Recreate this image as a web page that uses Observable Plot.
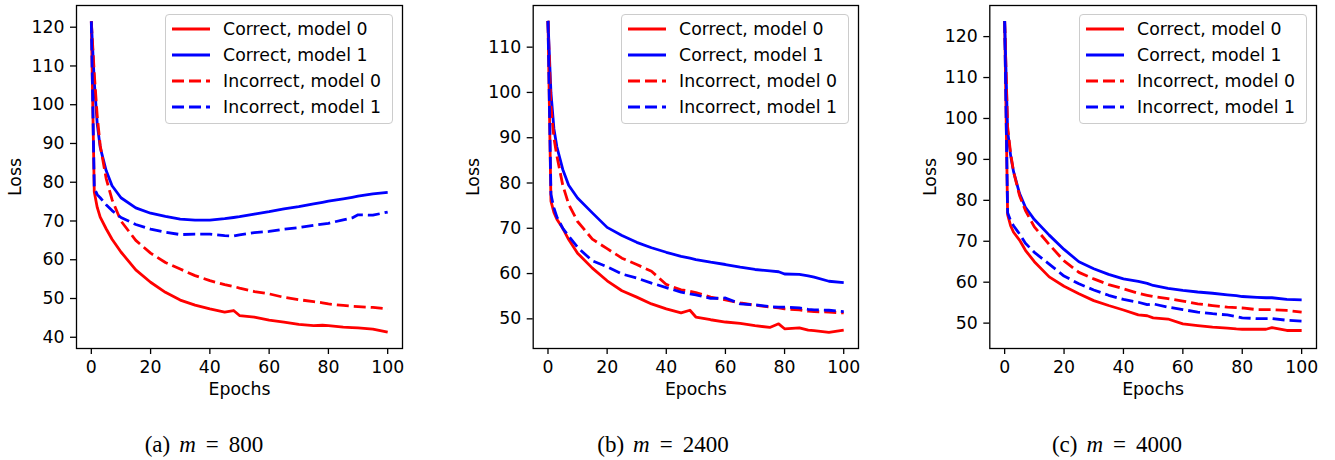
<!DOCTYPE html>
<html><head><meta charset="utf-8">
<script src="https://cdn.jsdelivr.net/npm/d3@7"></script>
<script src="https://cdn.jsdelivr.net/npm/@observablehq/plot@0.6"></script>
<style>
body{margin:0;background:#fff;width:1335px;height:460px;position:relative;overflow:hidden;font-family:"DejaVu Sans",sans-serif;}
.panel{position:absolute;top:0;height:400px;}
.legend{position:absolute;top:14px;width:228px;height:110px;box-sizing:border-box;border:1px solid #cccccc;border-radius:4px;background:rgba(255,255,255,0.85);padding:1px 0 0 5.7px;}
.row{display:flex;align-items:center;height:26px;font-size:17.3px;color:#000;white-space:nowrap;}
.row svg{flex:none;}
.row span{margin-left:13.4px;}
.caption{position:absolute;top:433px;font-family:"Liberation Serif",serif;font-size:23px;line-height:1;transform:translateX(-50%);white-space:nowrap;color:#000;}
.caption .g1{margin-left:9px;}
.caption .g2{margin:0 10px;}
</style></head>
<body>
<script>
const epochs = [0,1,2,3,5,7,10,15,20,25,30,35,40,45,48,50,55,60,65,70,75,78,80,85,88,90,95,100];

// (a) m = 800
const m800_correct0   = [121.5,77.5,73.5,71.0,68.0,65.3,62.0,57.4,54.2,51.6,49.6,48.3,47.3,46.5,46.9,45.6,45.2,44.4,43.9,43.3,43.0,43.1,43.0,42.6,42.5,42.4,42.1,41.3];
const m800_correct1   = [121.5,106,95,89,83,79.1,76.0,73.4,72.0,71.2,70.5,70.2,70.2,70.6,70.9,71.1,71.8,72.4,73.1,73.7,74.4,74.8,75.1,75.7,76.1,76.4,77.0,77.4];
const m800_incorrect0 = [121.5,108,97,89.5,81,75.5,70.0,65.0,61.7,59.3,57.6,55.9,54.6,53.6,53.1,52.7,51.8,51.2,50.3,49.7,49.2,48.9,48.6,48.2,48.0,47.9,47.7,47.3];
const m800_incorrect1 = [121.5,78.5,76.8,76.0,74.2,72.7,70.9,69.1,67.9,67.1,66.5,66.6,66.6,66.2,66.1,66.4,67.0,67.3,67.9,68.3,68.9,69.2,69.4,70.3,70.8,71.6,71.5,72.3];

// (b) m = 2400
const m2400_correct0   = [115.8,76,73.5,72,70,67.5,64.5,61.2,58.4,56.2,54.8,53.3,52.2,51.3,51.9,50.4,49.8,49.3,49.0,48.5,48.1,48.9,47.8,48.0,47.5,47.4,47.0,47.5];
const m2400_correct1   = [115.8,100,92,88,83,79.5,76.7,73.4,70.2,68.4,66.9,65.7,64.7,63.8,63.4,63.1,62.5,62.0,61.4,60.9,60.6,60.4,59.9,59.8,59.5,59.2,58.3,58.0];
const m2400_incorrect0 = [115.8,97,90,86,79.5,75.3,71.5,67.6,65.5,63.4,62.0,60.5,57.6,56.4,56.1,55.8,54.8,54.2,53.5,53.0,52.6,52.4,52.2,52.0,51.7,51.6,51.5,51.3];
const m2400_incorrect1 = [115.8,77.5,74.5,72.5,70.0,68.3,65.8,62.8,61.5,59.9,59.0,57.9,56.9,55.9,55.5,55.3,54.5,54.6,53.3,53.1,52.7,52.6,52.6,52.4,52.1,52.0,51.9,51.6];

// (c) m = 4000
const m4000_correct0   = [123.8,76.5,73.8,72.2,70.3,67.8,65.0,61.3,59.0,57.2,55.5,54.3,53.2,52.0,51.8,51.3,51.0,49.8,49.4,49.0,48.8,48.6,48.5,48.5,48.5,48.9,48.2,48.2];
const m4000_correct1   = [123.8,97,91,87,81.7,78.3,75.3,71.5,68.0,65.0,63.3,61.9,60.8,60.2,59.7,59.2,58.5,58.0,57.6,57.3,56.9,56.7,56.5,56.3,56.2,56.2,55.8,55.7];
const m4000_incorrect0 = [123.8,98,91.5,87,81.2,77.5,73.5,69.2,65.2,62.4,60.8,59.4,58.4,57.3,56.8,56.5,56.0,55.4,54.7,54.3,53.9,53.8,53.7,53.3,53.3,53.3,53.1,52.7];
const m4000_incorrect1 = [123.8,77,75,73.8,71.8,69.5,67.3,64.4,61.5,59.6,58.1,56.8,55.8,55.1,54.5,54.7,53.9,53.3,52.7,52.3,52.0,51.6,51.3,51.1,51.1,51.1,50.7,50.5];

const seriesNames = ["Correct, model 0","Correct, model 1","Incorrect, model 0","Incorrect, model 1"];
const seriesColors = ["#ff0000","#0000ff","#ff0000","#0000ff"];
const seriesDashed = [false,false,true,true];

const xTicks = [0,20,40,60,80,100];
const yTicks800 = [40,50,60,70,80,90,100,110,120];
const yTicks2400 = [50,60,70,80,90,100,110];
const yTicks4000 = [50,60,70,80,90,100,110,120];

const captions = ["(a)", "(b)", "(c)"];
const mValues = ["800", "2400", "4000"];

const panels = [
  {left:0,   width:420, ml:76,   mr:18, yDomain:[37.1,125.6], yTicks:yTicks800,  yLabelOffset:68, capX:204,
   values:[m800_correct0,m800_correct1,m800_incorrect0,m800_incorrect1]},
  {left:445, width:430, ml:87.7, mr:17, yDomain:[43.45,119.2], yTicks:yTicks2400, yLabelOffset:66, capX:663,
   values:[m2400_correct0,m2400_correct1,m2400_incorrect0,m2400_incorrect1]},
  {left:900, width:435, ml:89.3, mr:19, yDomain:[43.8,127.6], yTicks:yTicks4000, yLabelOffset:66, capX:1117,
   values:[m4000_correct0,m4000_correct1,m4000_incorrect0,m4000_incorrect1]}
];

const LW = 2.8, DASH = "12,5";

panels.forEach((p, pi) => {
  const rows = [];
  p.values.forEach((arr, si) => arr.forEach((v, i) => rows.push({epoch: epochs[i], loss: v, s: si})));
  const lines = seriesNames.map((name, si) => Plot.line(rows.filter(d => d.s === si), {
    x: "epoch", y: "loss", stroke: seriesColors[si], strokeWidth: LW,
    strokeDasharray: seriesDashed[si] ? DASH : undefined, strokeLinejoin: "round", strokeLinecap: "butt"
  }));
  const chart = Plot.plot({
    width: p.width, height: 400,
    marginLeft: p.ml, marginRight: p.mr, marginTop: 5, marginBottom: 52,
    x: {domain: [-5, 105]},
    y: {domain: p.yDomain},
    style: {fontFamily: "DejaVu Sans", fontSize: "17.3px", color: "#000", background: "transparent", overflow: "visible"},
    marks: [
      ...lines,
      Plot.frame({stroke: "#000", strokeWidth: 1.3}),
      Plot.axisX({ticks: xTicks, tickSize: 6, tickPadding: 6, strokeWidth: 1.3, label: "Epochs", labelAnchor: "center", labelOffset: 46, labelArrow: false}),
      Plot.axisY({ticks: p.yTicks, tickSize: 6, tickPadding: 6, strokeWidth: 1.3, label: "Loss", labelAnchor: "center", labelOffset: p.yLabelOffset, labelArrow: false})
    ]
  });
  const div = document.createElement("div");
  div.className = "panel";
  div.style.left = p.left + "px";
  div.style.width = p.width + "px";
  div.appendChild(chart);

  // legend inside the axes (upper right)
  const leg = document.createElement("div");
  leg.className = "legend";
  leg.style.left = (p.width - p.mr - 9 - 228) + "px";
  seriesNames.forEach((name, si) => {
    const r = document.createElement("div");
    r.className = "row";
    r.innerHTML = `<svg width="38" height="26"><line x1="0" x2="38" y1="13" y2="13" stroke="${seriesColors[si]}" stroke-width="${LW}" ${seriesDashed[si] ? `stroke-dasharray="${DASH}"` : ""}/></svg><span>${name}</span>`;
    leg.appendChild(r);
  });
  div.appendChild(leg);
  document.body.appendChild(div);

  const cap = document.createElement("div");
  cap.className = "caption";
  cap.style.left = p.capX + "px";
  cap.innerHTML = `${captions[pi]}<i class="g1">m</i><span class="g2">=</span>${mValues[pi]}`;
  document.body.appendChild(cap);
});
</script>
</body></html>
